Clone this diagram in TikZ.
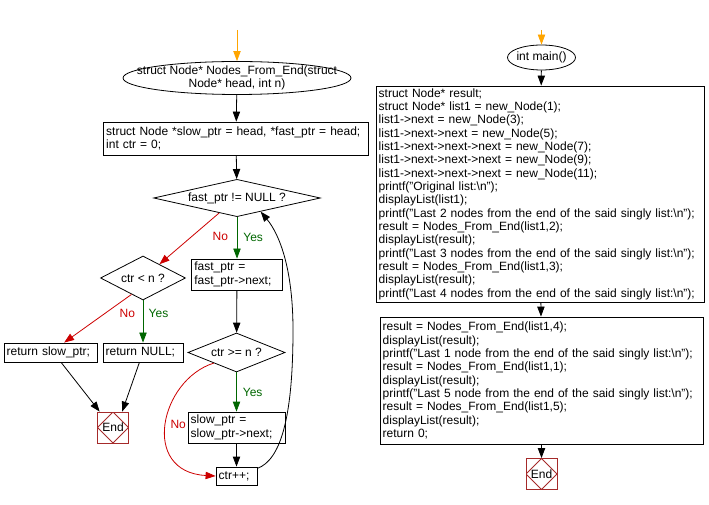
\documentclass[tikz,border=0pt]{standalone}
\usepackage{fontspec}
\setmainfont{Liberation Sans}
\usetikzlibrary{shapes.geometric,arrows.meta}
\definecolor{startcol}{RGB}{255,165,0}
\definecolor{nocol}{RGB}{204,0,0}
\definecolor{yescol}{RGB}{0,102,0}
\definecolor{endcol}{RGB}{165,42,42}

\begin{document}
\begin{tikzpicture}[x=0.75pt,y=-0.75pt,font=\fontsize{9}{10}\selectfont,line width=0.6pt,
        arr/.style={-{Triangle[length=7.5pt,width=5.5pt]}},
        startarr/.style={arr,draw=startcol},
        yes/.style={arr,draw=yescol},
        no/.style={arr,draw=nocol},
        yeslabel/.style={text=yescol,inner sep=1pt},
        nolabel/.style={text=nocol,inner sep=1pt},
        startnode/.style={draw,shape=ellipse,inner sep=0pt},
        codebox/.style={draw,shape=rectangle,align=left,inner xsep=2pt,inner ysep=0pt,text width=#1},
        decision/.style={draw,shape=diamond,inner sep=0pt,align=center},
        endnode/.style={draw=endcol,shape=rectangle,minimum size=23.25pt,inner sep=0pt,
            path picture={\draw[endcol] (path picture bounding box.north) -- (path picture bounding box.east)
                -- (path picture bounding box.south) -- (path picture bounding box.west) -- cycle;}}]
        \useasboundingbox (0,0) rectangle (709,505);

        \coordinate (in1) at (237,30);
        \draw (237,78) node (fn) [startnode,minimum width=171pt,minimum height=24.75pt,
            label={[align=center]center:struct Node* Nodes\_From\_End(struct\\Node* head, int n)}] {};
        \draw (236,138.5) node (init) [codebox=194.75pt,minimum height=24.75pt] {struct Node *slow\_ptr = head, *fast\_ptr = head;\\int ctr = 0;};
        \draw (237,198) node (d1) [decision,aspect=4.4,minimum width=125pt,minimum height=28pt] {fast\_ptr != NULL ?};
        \draw (237,274.5) node (fast) [codebox=64pt,minimum height=23.25pt] {fast\_ptr =\\fast\_ptr->next;};
        \draw (143,278) node (d2) [decision,aspect=1.93,minimum width=63.75pt,minimum height=33pt] {ctr < n ?};
        \draw (50.5,352.5) node (ret1) [codebox=65.75pt,minimum height=14.25pt] {return slow\_ptr;};
        \draw (143,352.5) node (ret2) [codebox=56pt,minimum height=14.25pt] {return NULL;};
        \draw (113,427.5) node (end1) [endnode] {End};
        \draw (236.5,352.5) node (d3) [decision,aspect=2.55,minimum width=72.75pt,minimum height=29.25pt] {ctr >= n ?};
        \draw (236.5,427.5) node (slow) [codebox=68.75pt,minimum height=23.25pt] {slow\_ptr =\\slow\_ptr->next;};
        \draw (236.5,476) node (ctr) [codebox=26.75pt,minimum height=13.5pt] {ctr++;};

        \draw[startarr] (in1) -- (fn);
        \draw[arr] (fn) -- (init);
        \draw[arr] (init) -- (d1);
        \draw[yes] (d1) -- node[yeslabel,right=3.5pt] {Yes} (fast);
        \draw[no] (d1.220) -- node[nolabel,pos=0.45,right=14pt] {No} (d2.40);
        \draw[yes] (d2) -- node[yeslabel,pos=0.3,right=3pt] {Yes} (ret2);
        \draw[no] (d2.235) -- node[nolabel,pos=0.4,right=10pt] {No} (ret1.36);
        \draw[arr] (ret1.-43) -- (end1.130);
        \draw[arr] (ret2.-110) -- (end1.60);
        \draw[arr] (fast) -- (d3);
        \draw[yes] (d3) -- node[yeslabel,right=3.5pt] {Yes} (slow);
        \draw[no] (d3.205) .. controls (160,380) and (140,472) .. node[nolabel,pos=0.5,right=2pt] {No} (ctr.west);
        \draw[arr] (slow) -- (ctr);
        \draw[arr] (ctr.20) .. controls (280,460) and (293,420) .. (293,330) .. controls (293,270) and (280,235) .. (d1.-30);

        \coordinate (in2) at (541.5,30);
        \draw (541.5,57.5) node (main) [startnode,minimum width=51pt,minimum height=18.75pt,
            label={center:int main()}] {};
        \draw (540,194) node (body1) [codebox=242pt,minimum height=162pt] {struct Node* result;\\
            struct Node* list1 = new\_Node(1);\\
            list1->next = new\_Node(3);\\
            list1->next->next = new\_Node(5);\\
            list1->next->next->next = new\_Node(7);\\
            list1->next->next->next = new\_Node(9);\\
            list1->next->next->next = new\_Node(11);\\
            printf("Original list:\textbackslash n");\\
            displayList(list1);\\
            printf("Last 2 nodes from the end of the said singly list:\textbackslash n");\\
            result = Nodes\_From\_End(list1,2);\\
            displayList(result);\\
            printf("Last 3 nodes from the end of the said singly list:\textbackslash n");\\
            result = Nodes\_From\_End(list1,3);\\
            displayList(result);\\
            printf("Last 4 nodes from the end of the said singly list:\textbackslash n");};
        \draw (541.5,380.5) node (body2) [codebox=238.25pt,minimum height=95.25pt] {result = Nodes\_From\_End(list1,4);\\
            displayList(result);\\
            printf("Last 1 node from the end of the said singly list:\textbackslash n");\\
            result = Nodes\_From\_End(list1,1);\\
            displayList(result);\\
            printf("Last 5 node from the end of the said singly list:\textbackslash n");\\
            result = Nodes\_From\_End(list1,5);\\
            displayList(result);\\
            return 0;};
        \draw (541.5,474) node (end2) [endnode] {End};

        \draw[startarr] (in2) -- (main);
        \draw[arr] (main) -- (body1);
        \draw[arr] (body1) -- (body2);
        \draw[arr] (body2) -- (end2);
    \end{tikzpicture}
\end{document}
